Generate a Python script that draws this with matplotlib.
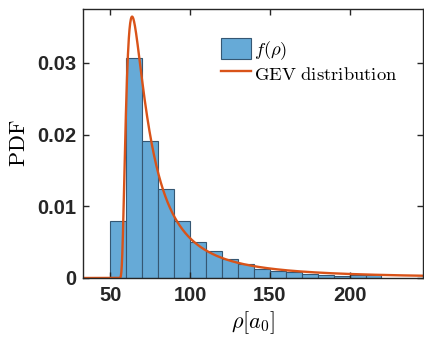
import numpy as np
import matplotlib
matplotlib.use("Agg")
import matplotlib.pyplot as plt

# Histogram data (bin edges in a0, PDF heights)
bin_edges = [50, 60, 70, 80, 90, 100, 110, 120, 130, 140, 150, 160, 170, 180, 190, 200, 210, 220]
pdf_heights = [0.0079, 0.0307, 0.0191, 0.0124, 0.0080, 0.0050, 0.0037, 0.0026, 0.0020,
               0.00125, 0.0010, 0.0008, 0.0006, 0.0004, 0.0003, 0.0004, 0.0004]

# Fitted GEV parameters (shape xi, scale sigma, location mu)
gev_xi = 0.86
gev_sigma = 13.55
gev_mu = 70.26

x_ticks = [50, 100, 150, 200]
y_ticks = [0, 0.01, 0.02, 0.03]
y_tick_labels = ["0", "0.01", "0.02", "0.03"]

plt.rcParams['mathtext.fontset'] = 'cm'

fig = plt.figure(figsize=(4.24, 3.37), dpi=100)
ax = fig.add_axes([0.1958, 0.1751, 0.9976 - 0.1958, 0.9733 - 0.1751])

edges = np.array(bin_edges, dtype=float)
widths = np.diff(edges)
bars = ax.bar(edges[:-1], pdf_heights, width=widths, align='edge',
              color='#66AAD7', edgecolor='#355773', linewidth=0.8, label=r'$f(\rho)$')

xs = np.linspace(33, 246, 1500)
z = 1 + gev_xi * (xs - gev_mu) / gev_sigma
pdf = np.zeros_like(xs)
m = z > 0
t = z[m] ** (-1.0 / gev_xi)
pdf[m] = (1.0 / gev_sigma) * t ** (gev_xi + 1) * np.exp(-t)
line, = ax.plot(xs, pdf, color='#D95319', linewidth=1.7, label=r'$\mathrm{GEV\ distribution}$')

ax.set_xlim(33, 246)
ax.set_ylim(0, 0.0375)
ax.set_xticks(x_ticks)
ax.set_yticks(y_ticks)
ax.set_yticklabels(y_tick_labels)
for lab in ax.get_xticklabels() + ax.get_yticklabels():
    lab.set_fontfamily('Liberation Sans')
    lab.set_fontweight('bold')
    lab.set_fontsize(14.5)
    lab.set_color('#262626')
ax.tick_params(direction='in', top=True, right=True, length=4, width=1, color='#262626')
ax.tick_params(axis='x', pad=6)
ax.tick_params(axis='y', pad=5)
for s in ax.spines.values():
    s.set_color('#262626')
    s.set_linewidth(1)

ax.set_xlabel(r'$\rho[a_0]$', fontsize=16, labelpad=3)
ax.set_ylabel(r'$\mathrm{PDF}$', fontsize=16, labelpad=6)

leg = ax.legend([bars, line], [r'$f(\rho)$', r'$\mathrm{GEV\ distribution}$'],
                loc='upper left', bbox_to_anchor=(0.385, 0.92), frameon=False,
                fontsize=13.4, handlelength=1.62, handleheight=1.4, handletextpad=0.12,
                labelspacing=0.05, borderaxespad=0)

fig.savefig('out.png', dpi=100)
